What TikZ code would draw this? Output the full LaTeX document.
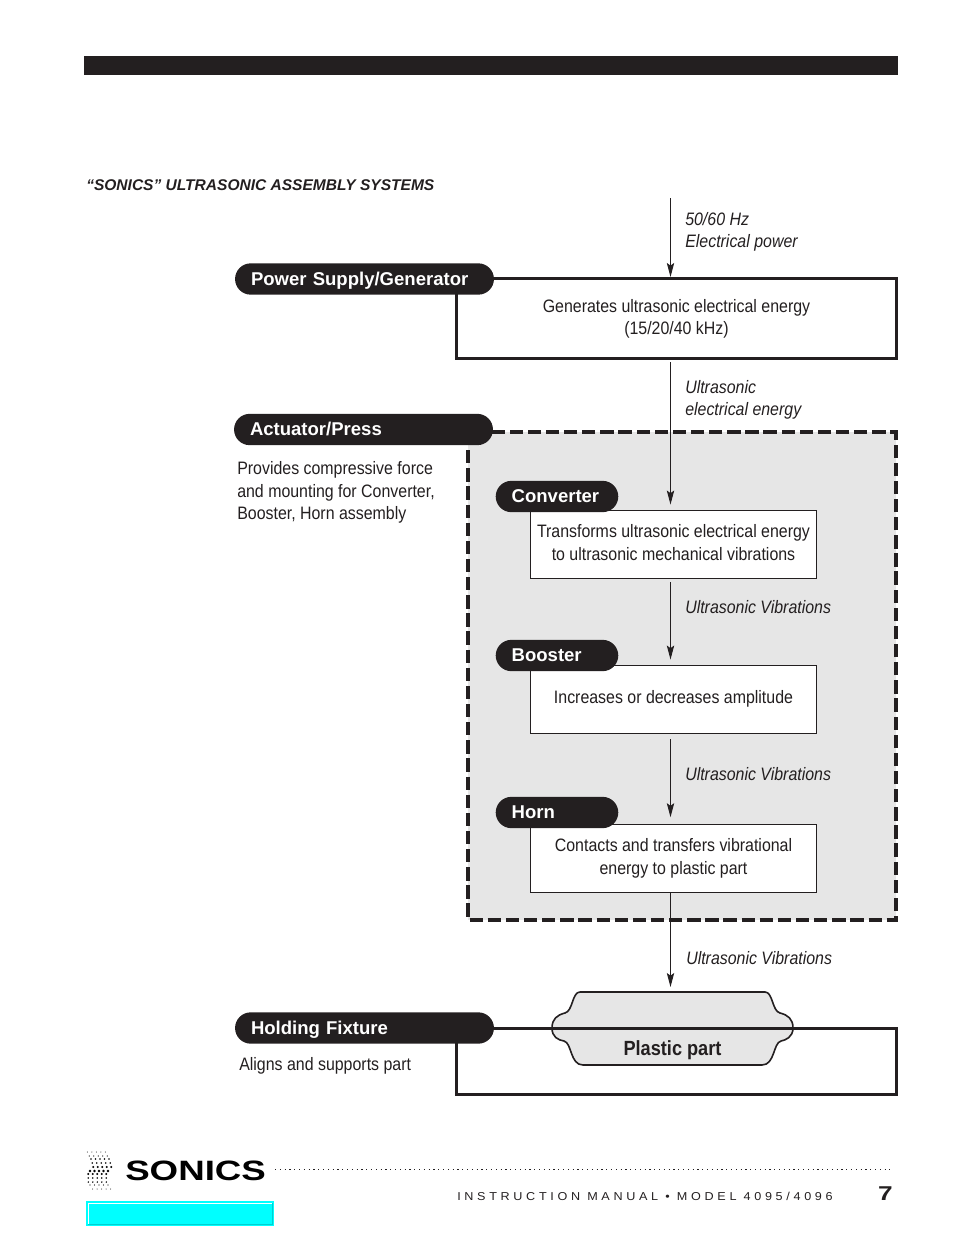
\documentclass[tikz,border=0pt]{standalone}
\usepackage{fontspec}
\setmainfont{Liberation Sans}
\newfontfamily\bodyfont[FakeStretch=0.885]{Liberation Sans}
\newfontfamily\logofont[FakeStretch=1.31]{Liberation Sans}
\newfontfamily\footfont[LetterSpace=32,FakeStretch=1.1]{Liberation Sans}
\usetikzlibrary{arrows.meta,shapes.misc}
\definecolor{inkblack}{HTML}{231F20}
\definecolor{panelgray}{HTML}{E6E6E6}
\definecolor{barcyan}{HTML}{00FFFF}
\definecolor{barshade}{HTML}{00D0D0}
\tikzset{
	pill/.style={rounded rectangle, fill=inkblack, text=white, font=\fontsize{13.9}{16}\selectfont\bfseries, align=left, text width=#1, inner xsep=10pt, inner ysep=0pt, minimum height=23.5pt, text height=11pt, text depth=2pt},
	bigbox/.style={draw=inkblack, line width=2.3pt, minimum width=329.5pt},
	smallbox/.style={draw=inkblack, fill=white, line width=0.7pt, minimum width=215pt, minimum height=51.25pt},
	body/.style={text=inkblack, font=\bodyfont\fontsize{13.5}{16.8}\selectfont, align=center, inner sep=0pt},
	note/.style={text=inkblack, font=\bodyfont\fontsize{13.5}{16.7}\selectfont\itshape, align=left, anchor=west, inner sep=0pt},
	flow/.style={draw=inkblack, line width=0.7pt, -{Stealth[length=10.5pt,width=5.5pt,inset=2pt]}}
}
\begin{document}
\begin{tikzpicture}[x=0.75pt, y=-0.75pt]
	\useasboundingbox (0,0) rectangle (954,1235);
	%top bar and heading
	\fill[inkblack] (84,56) rectangle (898,75);
	\node[anchor=west, inner sep=0pt, text=inkblack, font=\fontsize{11.65}{13}\selectfont\bfseries\itshape] (heading) at (86,185) {“SONICS” ULTRASONIC ASSEMBLY SYSTEMS};

	%dashed actuator panel
	\draw[fill=panelgray, draw=inkblack, line width=2.6pt, dash pattern=on 10pt off 3.6pt] (468,432) rectangle (896,920);

	%boxes
	\node[bigbox, minimum height=60pt] (powerbox) at (676.5,318.5) {};
	\node[body] (powertext) at (676.5,319) {Generates ultrasonic electrical energy\\(15/20/40 kHz)};
	\node[smallbox] (converterbox) at (673.5,544.5) {};
	\node[body] (convertertext) at (673.5,542.5) {Transforms ultrasonic electrical energy\\to ultrasonic mechanical vibrations};
	\node[smallbox] (boosterbox) at (673.5,699.5) {};
	\node[body] (boostertext) at (673.5,698.5) {Increases or decreases amplitude};
	\node[smallbox] (hornbox) at (673.5,858.5) {};
	\node[body] (horntext) at (673.5,858.5) {Contacts and transfers vibrational\\energy to plastic part};

	%plastic part goes under the fixture line
	\draw[fill=panelgray, draw=inkblack, line width=1.2pt] (580,992) -- (765,992)
		.. controls (773,992) and (772,1011) .. (780,1013)
		.. controls (788,1015) and (793,1019) .. (793,1028)
		.. controls (793,1037) and (786,1040) .. (781,1041)
		.. controls (773,1043) and (775,1065) .. (762,1065)
		-- (583,1065)
		.. controls (570,1065) and (572,1043) .. (564,1041)
		.. controls (558,1040) and (552,1037) .. (552,1028)
		.. controls (552,1019) and (557,1015) .. (565,1013)
		.. controls (573,1011) and (572,992) .. (580,992) -- cycle;
	\node[bigbox, minimum height=49.5pt] (fixturebox) at (676.5,1061.5) {};
	\node[text=inkblack, font=\bodyfont\fontsize{15.4}{16}\selectfont\bfseries] (plastic) at (672.5,1050.5) {Plastic part};

	%flow arrows
	\coordinate (powerin) at (670.5,198);
	\coordinate (powerout) at (670.5,362);
	\coordinate (converterout) at (670.5,582);
	\coordinate (boosterout) at (670.5,739);
	\coordinate (hornout) at (670.5,893);
	\coordinate (partin) at (670.5,987);
	\draw[flow] (powerin) -- (powerin |- powerbox.north);
	\draw[flow, shorten >=4pt] (powerout) -- (powerout |- converterbox.north);
	\draw[flow, shorten >=4pt] (converterout) -- (converterout |- boosterbox.north);
	\draw[flow, shorten >=5pt] (boosterout) -- (boosterout |- hornbox.north);
	\draw[flow] (hornout) -- (partin);

	%arrow labels
	\node[note] (powerlabel) at (685,232) {50/60 Hz\\Electrical power};
	\node[note] (energylabel) at (685,400) {Ultrasonic\\electrical energy};
	\foreach \y/\n in {607/vibone, 774/vibtwo}{
		\node[note] (\n) at (685,\y) {Ultrasonic Vibrations};
	}
	\node[note] (vibthree) at (686,958) {Ultrasonic Vibrations};

	%title pills
	\node[pill=170.25pt] (powerpill) at (364.5,279) {Power Supply/Generator};
	\node[pill=170.25pt] (actuatorpill) at (363.5,429.5) {Actuator/Press};
	\node[pill=170.25pt] (fixturepill) at (364.5,1028) {Holding Fixture};
	\node[pill=68pt] (converterpill) at (557,496.5) {Converter};
	\node[pill=68pt] (boosterpill) at (557,655.5) {Booster};
	\node[pill=68pt] (hornpill) at (557,812.5) {Horn};

	%left hand texts
	\node[note, font=\bodyfont\fontsize{13.5}{16.8}\selectfont] (actuatortext) at (237,492.5) {Provides compressive force\\and mounting for Converter,\\Booster, Horn assembly};
	\node[note, font=\bodyfont\fontsize{13.5}{16.7}\selectfont] (fixturetext) at (239,1066) {Aligns and supports part};

	%footer
	\foreach \y/\x/\r in {1152/87.3/.5, 1156/89.3/.6, 1159/91/.8, 1163/92.3/.9, 1167/93.3/1.1, 1171/90/1.3, 1174/88.3/1.1, 1178/88.3/.9, 1182/88.3/.8, 1185/90/.6, 1189/92.7/.5}{
		\foreach \c in {0,...,4}{
			\fill[black] ({\x+\c*4.5},\y) circle (\r);
		}
	}
	\node[anchor=west, inner sep=0pt, text=black, font=\logofont\fontsize{21}{24}\selectfont\bfseries] (logo) at (125,1170.5) {SONICS};
	\coordinate (dotsleft) at (275,1169.5);
	\coordinate (dotsright) at (890,1169.5);
	\draw[inkblack, line width=0.9pt, dash pattern=on 0.9pt off 2.7pt] (dotsleft) -- (dotsright);
	\node[anchor=west, inner sep=0pt, text=inkblack, font=\footfont\fontsize{8.6}{10}\selectfont] (manual) at (457,1196) {INSTRUCTION MANUAL • MODEL 4095/4096};
	\node[anchor=east, inner sep=0pt, text=inkblack, font=\logofont\fontsize{15}{16}\selectfont\bfseries] (pagenum) at (893,1194) {7};
	\fill[barcyan] (86,1201) rectangle (274,1226);
	\draw[white, line width=0.75pt] (88,1224) -- (88,1203) -- (272,1203);
	\draw[barshade, line width=0.75pt] (88,1224) -- (272,1224) -- (272,1203);
\end{tikzpicture}
\end{document}
